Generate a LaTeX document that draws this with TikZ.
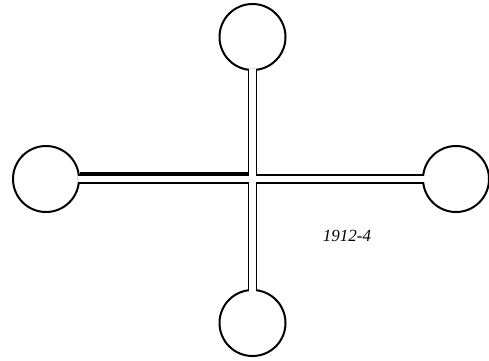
\documentclass[tikz,border=0pt]{standalone}
\usepackage{fontspec}
\setmainfont{Liberation Serif}
\begin{document}
\begin{tikzpicture}[x=1pt,y=-1pt,
  bulb/.style={circle,draw=black,fill=white,line width=2pt,minimum size=66pt,inner sep=0pt},
  outer/.style={line width=9.5pt,black,shorten <=-1.5pt},
  inner/.style={line width=6.5pt,white,shorten <=-2.5pt}]
\useasboundingbox (0,0) rectangle (489,360);
\coordinate (c) at (252.5,179);
\node[bulb] (top) at (252.5,37) {};
\node[bulb] (bot) at (252.5,323) {};
\node[bulb] (lft) at (46,179) {};
\node[bulb] (rgt) at (456,179) {};
\foreach \n in {top,bot,lft,rgt} \draw[outer] (\n) -- (c);
\path (lft.east) ++(0,-5.5) coordinate (la) (c) ++(0,-5.5) coordinate (lb);
\draw[line width=2.5pt] (la) -- (lb);
\foreach \n in {top,bot,lft,rgt} \draw[inner] (\n) -- (c);
\node[font=\fontsize{17}{19}\selectfont\itshape] (lab) at (347,236) {1912-4};
\end{tikzpicture}
\end{document}
